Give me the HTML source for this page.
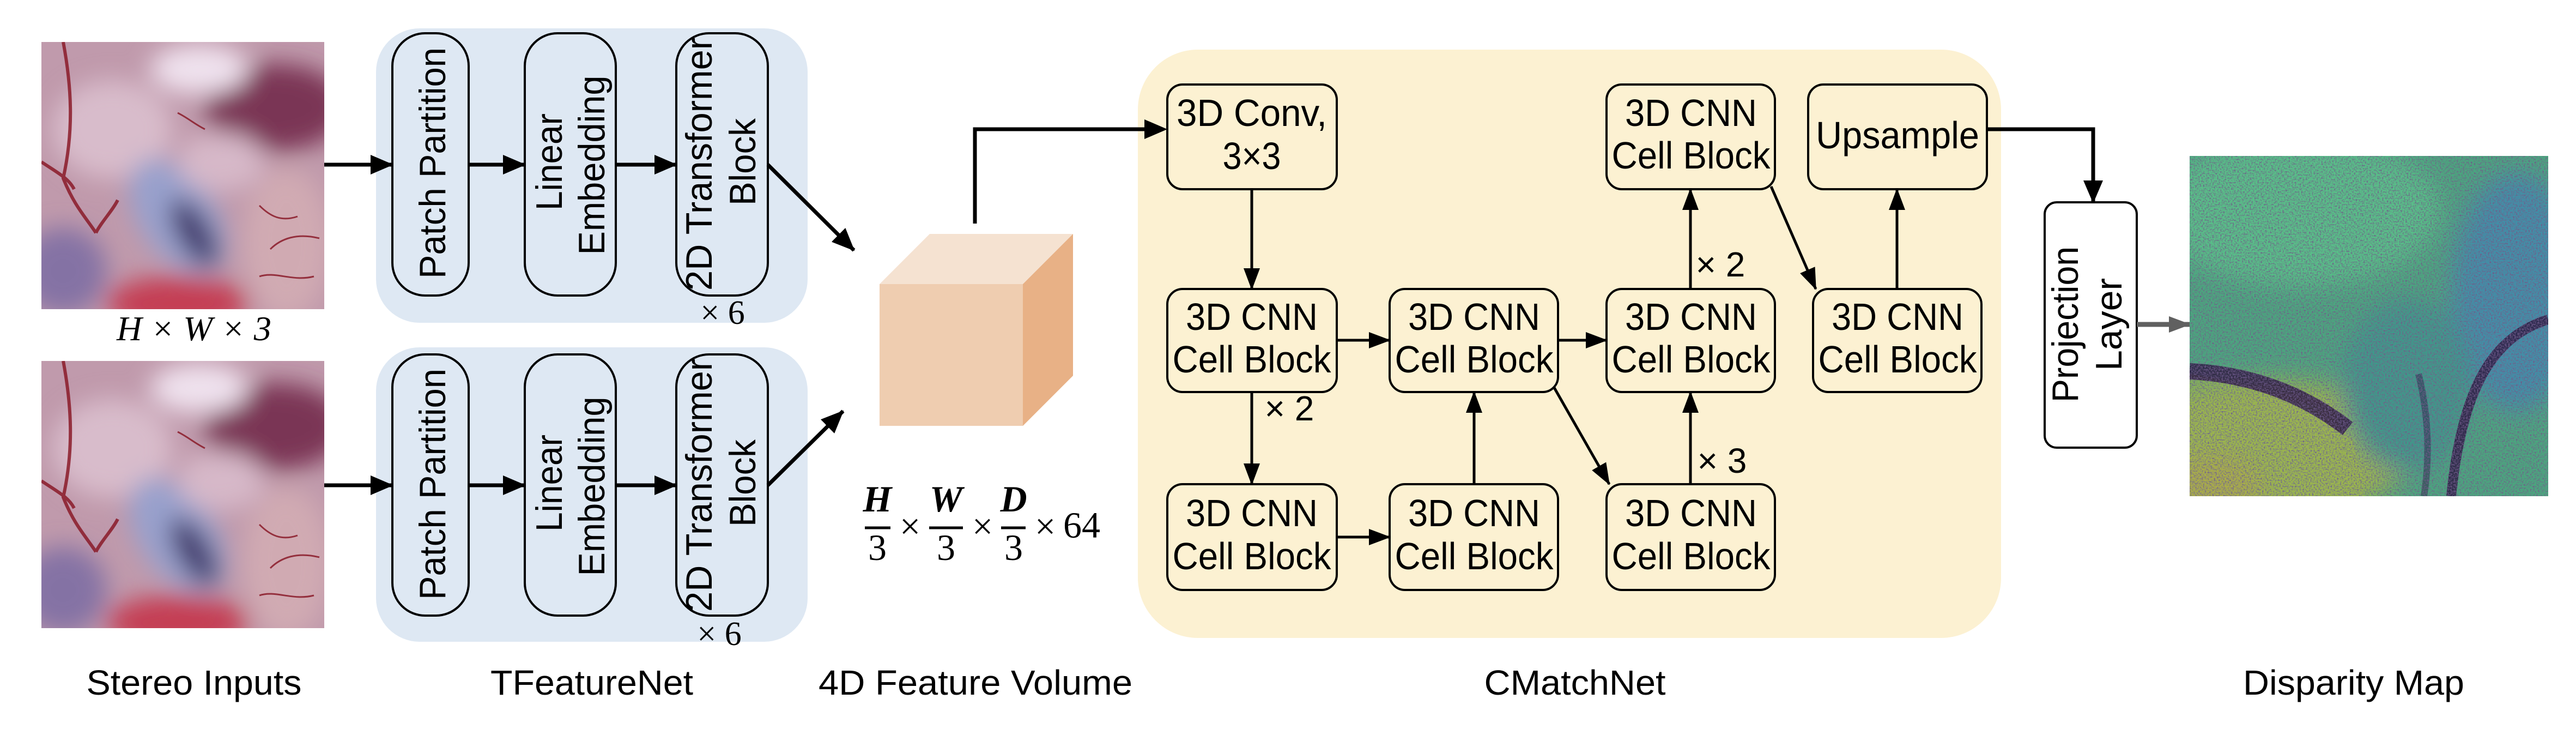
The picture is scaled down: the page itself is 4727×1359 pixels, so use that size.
<!DOCTYPE html>
<html><head><meta charset="utf-8"><style>
html,body{margin:0;padding:0;background:#fff;}
svg{display:block;}
text{font-family:"Liberation Sans",sans-serif;fill:#000;}
.n text, text.n{font-family:"Liberation Sans Narrow","Liberation Sans",sans-serif;}
.m text, text.m{font-family:"Liberation Serif",serif;}
</style></head><body>
<svg width="4727" height="1359" viewBox="0 0 4727 1359" xmlns="http://www.w3.org/2000/svg">
<defs>
<marker id="ah" markerUnits="userSpaceOnUse" markerWidth="44" markerHeight="36" refX="40" refY="18" orient="auto">
<path d="M0,0 L42,18 L0,36 Z" fill="#000"/></marker>
<marker id="as" markerUnits="userSpaceOnUse" markerWidth="40" markerHeight="30" refX="38" refY="15" orient="auto">
<path d="M0,0 L40,15 L0,30 Z" fill="#000"/></marker>
<marker id="ag" markerUnits="userSpaceOnUse" markerWidth="40" markerHeight="30" refX="38" refY="15" orient="auto">
<path d="M0,0 L40,15 L0,30 Z" fill="#606060"/></marker>
<filter id="blur" x="-50%" y="-50%" width="200%" height="200%"><feGaussianBlur stdDeviation="22"/></filter>
<filter id="noise" x="0" y="0" width="100%" height="100%">
<feTurbulence type="fractalNoise" baseFrequency="0.35" numOctaves="2" seed="3" result="t"/>
<feColorMatrix in="t" type="matrix" values="0 0 0 0 0.15  0 0 0 0 0.1  0 0 0 0 0.25  0 0 0 -2.2 1.35" result="d"/>
<feComposite in="d" in2="SourceGraphic" operator="in" result="dd"/>
<feMerge><feMergeNode in="SourceGraphic"/><feMergeNode in="dd"/></feMerge>
</filter>
<clipPath id="pc"><rect x="0" y="0" width="519" height="490"/></clipPath>
<g id="photo" clip-path="url(#pc)">
<rect x="0" y="0" width="519" height="490" fill="#c09aac"/>
<g filter="url(#blur)">
<ellipse cx="430" cy="120" rx="130" ry="80" fill="#7a3654"/>
<ellipse cx="290" cy="50" rx="90" ry="45" fill="#efe2ee"/>
<ellipse cx="130" cy="160" rx="110" ry="90" fill="#d8bccb"/>
<ellipse cx="250" cy="320" rx="70" ry="120" fill="#98a0cc" transform="rotate(-35 250 320)"/>
<ellipse cx="280" cy="350" rx="30" ry="70" fill="#40386a" transform="rotate(-30 280 350)"/>
<ellipse cx="450" cy="370" rx="80" ry="140" fill="#d0aab2"/>
<ellipse cx="250" cy="480" rx="130" ry="50" fill="#c43c52"/>
<ellipse cx="40" cy="420" rx="80" ry="80" fill="#8472a4"/>
<ellipse cx="330" cy="220" rx="80" ry="55" fill="#d6b8c8"/>
</g>
<g fill="none" stroke="#8a1a28" stroke-width="6" opacity="0.85">
<path d="M40,0 C55,80 60,160 40,250 C60,300 80,320 100,350"/>
<path d="M0,220 C30,240 50,250 60,270"/>
<path d="M100,350 C110,330 130,310 140,290"/>
<path d="M400,300 C420,320 440,330 470,320 M420,380 C440,360 470,350 510,360 M400,430 C430,420 460,440 500,430" stroke-width="3"/>
<path d="M250,130 C270,140 280,150 300,160" stroke-width="3"/>
</g>
</g>
</defs>

<use href="#photo" x="76" y="77"/>
<use href="#photo" x="76" y="662"/>
<text class="m" x="356" y="624" font-size="64" font-style="italic" text-anchor="middle" textLength="284" lengthAdjust="spacingAndGlyphs">H × W × 3</text>

<rect x="690" y="52" width="792" height="540" rx="80" fill="#dee8f3"/>
<rect x="690" y="637" width="792" height="540" rx="80" fill="#dee8f3"/>
<g fill="none" stroke="#000" stroke-width="4">
<rect x="720" y="61" width="140" height="481" rx="60"/>
<rect x="963" y="61" width="167" height="481" rx="60"/>
<rect x="1241" y="61" width="168" height="481" rx="60"/>
<rect x="720" y="650" width="140" height="479" rx="60"/>
<rect x="963" y="650" width="167" height="479" rx="60"/>
<rect x="1241" y="650" width="168" height="479" rx="60"/>
</g>
<g font-size="68">
<text transform="translate(817,299) rotate(-90)" text-anchor="middle" textLength="424" lengthAdjust="spacingAndGlyphs">Patch Partition</text>
<text transform="translate(1031,297) rotate(-90)" text-anchor="middle" textLength="178" lengthAdjust="spacingAndGlyphs">Linear</text>
<text transform="translate(1109,303) rotate(-90)" text-anchor="middle" textLength="329" lengthAdjust="spacingAndGlyphs">Embedding</text>
<text transform="translate(1306,301) rotate(-90)" text-anchor="middle" textLength="464" lengthAdjust="spacingAndGlyphs">2D Transformer</text>
<text transform="translate(1386,297) rotate(-90)" text-anchor="middle" textLength="160" lengthAdjust="spacingAndGlyphs">Block</text>
<text transform="translate(817,888) rotate(-90)" text-anchor="middle" textLength="424" lengthAdjust="spacingAndGlyphs">Patch Partition</text>
<text transform="translate(1031,886) rotate(-90)" text-anchor="middle" textLength="178" lengthAdjust="spacingAndGlyphs">Linear</text>
<text transform="translate(1109,892) rotate(-90)" text-anchor="middle" textLength="329" lengthAdjust="spacingAndGlyphs">Embedding</text>
<text transform="translate(1306,890) rotate(-90)" text-anchor="middle" textLength="464" lengthAdjust="spacingAndGlyphs">2D Transformer</text>
<text transform="translate(1386,886) rotate(-90)" text-anchor="middle" textLength="160" lengthAdjust="spacingAndGlyphs">Block</text>
</g>
<text class="m" x="1326" y="594" font-size="62" text-anchor="middle">× 6</text>
<text class="m" x="1320" y="1183" font-size="62" text-anchor="middle">× 6</text>

<g stroke="#000" stroke-width="7" fill="none" marker-end="url(#ah)">
<line x1="595" y1="302" x2="720" y2="302"/>
<line x1="860" y1="302" x2="963" y2="302"/>
<line x1="1130" y1="302" x2="1241" y2="302"/>
<line x1="595" y1="890" x2="720" y2="890"/>
<line x1="860" y1="890" x2="963" y2="890"/>
<line x1="1130" y1="890" x2="1241" y2="890"/>
<line x1="1409" y1="302" x2="1567" y2="459"/>
<line x1="1409" y1="890" x2="1547" y2="754"/>
</g>

<polygon points="1614,521 1706,429 1969,429 1877,521" fill="#f5e2d1"/>
<polygon points="1877,521 1969,429 1969,689 1877,781" fill="#e8b186"/>
<rect x="1614" y="521" width="263" height="260" fill="#efcdb0"/>

<g class="m" font-size="68">
<text x="1610" y="938" text-anchor="middle" font-style="italic" font-weight="bold">H</text>
<text x="1610" y="1027" text-anchor="middle">3</text>
<text x="1736" y="938" text-anchor="middle" font-style="italic" font-weight="bold">W</text>
<text x="1736" y="1027" text-anchor="middle">3</text>
<text x="1860" y="938" text-anchor="middle" font-style="italic" font-weight="bold">D</text>
<text x="1860" y="1027" text-anchor="middle">3</text>
<text x="1670" y="988" text-anchor="middle">×</text>
<text x="1803" y="988" text-anchor="middle">×</text>
<text x="1918" y="988" text-anchor="middle">×</text>
<text x="1985" y="986" text-anchor="middle">64</text>
</g>
<g stroke="#000" stroke-width="5">
<line x1="1587" y1="968" x2="1634" y2="968"/>
<line x1="1705" y1="968" x2="1767" y2="968"/>
<line x1="1837" y1="968" x2="1882" y2="968"/>
</g>

<rect x="2088" y="91" width="1584" height="1079" rx="110" fill="#fcf1d2"/>
<polyline points="1789,410 1789,237 2105,237" stroke="#000" stroke-width="7" fill="none"/>
<polygon points="2100,219 2142,237 2100,255" fill="#000"/>
<g fill="none" stroke="#000" stroke-width="4">
<rect x="2142" y="155" width="311" height="192" rx="28"/>
<rect x="2142" y="530" width="311" height="189" rx="28"/>
<rect x="2550" y="530" width="309" height="189" rx="28"/>
<rect x="2948" y="530" width="309" height="189" rx="28"/>
<rect x="3327" y="530" width="309" height="189" rx="28"/>
<rect x="2142" y="888" width="311" height="194" rx="28"/>
<rect x="2550" y="888" width="309" height="194" rx="28"/>
<rect x="2948" y="888" width="309" height="194" rx="28"/>
<rect x="2948" y="155" width="309" height="192" rx="28"/>
<rect x="3318" y="155" width="328" height="192" rx="28"/>
</g>
<g class="n" font-size="70" text-anchor="middle">
<text x="2297" y="231" textLength="276" lengthAdjust="spacingAndGlyphs">3D Conv,</text>
<text x="2297" y="310" textLength="107" lengthAdjust="spacingAndGlyphs">3×3</text>
<text x="3103" y="231" textLength="242" lengthAdjust="spacingAndGlyphs">3D CNN</text>
<text x="3103" y="309" textLength="291" lengthAdjust="spacingAndGlyphs">Cell Block</text>
<text x="3482" y="272" textLength="300" lengthAdjust="spacingAndGlyphs">Upsample</text>
<text x="2297" y="605" textLength="242" lengthAdjust="spacingAndGlyphs">3D CNN</text>
<text x="2297" y="683" textLength="291" lengthAdjust="spacingAndGlyphs">Cell Block</text>
<text x="2705" y="605" textLength="242" lengthAdjust="spacingAndGlyphs">3D CNN</text>
<text x="2705" y="683" textLength="291" lengthAdjust="spacingAndGlyphs">Cell Block</text>
<text x="3103" y="605" textLength="242" lengthAdjust="spacingAndGlyphs">3D CNN</text>
<text x="3103" y="683" textLength="291" lengthAdjust="spacingAndGlyphs">Cell Block</text>
<text x="3482" y="605" textLength="242" lengthAdjust="spacingAndGlyphs">3D CNN</text>
<text x="3482" y="683" textLength="291" lengthAdjust="spacingAndGlyphs">Cell Block</text>
<text x="2297" y="965" textLength="242" lengthAdjust="spacingAndGlyphs">3D CNN</text>
<text x="2297" y="1044" textLength="291" lengthAdjust="spacingAndGlyphs">Cell Block</text>
<text x="2705" y="965" textLength="242" lengthAdjust="spacingAndGlyphs">3D CNN</text>
<text x="2705" y="1044" textLength="291" lengthAdjust="spacingAndGlyphs">Cell Block</text>
<text x="3103" y="965" textLength="242" lengthAdjust="spacingAndGlyphs">3D CNN</text>
<text x="3103" y="1044" textLength="291" lengthAdjust="spacingAndGlyphs">Cell Block</text>
<text x="2366" y="771" font-size="64">× 2</text>
<text x="3157" y="507" font-size="64">× 2</text>
<text x="3160" y="867" font-size="64">× 3</text>
</g>
<g stroke="#000" stroke-width="5" fill="none" marker-end="url(#as)">
<line x1="2297" y1="347" x2="2297" y2="530"/>
<line x1="2297" y1="719" x2="2297" y2="888"/>
<line x1="2453" y1="624" x2="2550" y2="624"/>
<line x1="2453" y1="985" x2="2550" y2="985"/>
<line x1="2705" y1="888" x2="2705" y2="719"/>
<line x1="2859" y1="624" x2="2948" y2="624"/>
<line x1="2852" y1="711" x2="2953" y2="888"/>
<line x1="3102" y1="888" x2="3102" y2="719"/>
<line x1="3102" y1="530" x2="3102" y2="347"/>
<line x1="3250" y1="342" x2="3332" y2="530"/>
<line x1="3481" y1="530" x2="3481" y2="347"/>
</g>
<polyline points="3646,237 3841,237 3841,371" stroke="#000" stroke-width="7" fill="none" marker-end="url(#ah)"/>

<rect x="3752" y="371" width="169" height="450" rx="22" fill="#fff" stroke="#000" stroke-width="4"/>
<g font-size="68">
<text transform="translate(3813,595) rotate(-90)" text-anchor="middle" textLength="286" lengthAdjust="spacingAndGlyphs">Projection</text>
<text transform="translate(3893,595) rotate(-90)" text-anchor="middle" textLength="170" lengthAdjust="spacingAndGlyphs">Layer</text>
</g>
<line x1="3921" y1="595" x2="4018" y2="595" stroke="#606060" stroke-width="9" marker-end="url(#ag)"/>

<g filter="url(#noise)">
<svg x="4018" y="286" width="658" height="624" viewBox="0 0 658 624">
<rect width="658" height="624" fill="#4aa87e"/>
<g filter="url(#blur)">
<ellipse cx="200" cy="100" rx="260" ry="140" fill="#58c088"/>
<ellipse cx="600" cy="250" rx="120" ry="220" fill="#3f90a8"/>
<ellipse cx="150" cy="540" rx="260" ry="130" fill="#9cb848"/>
<ellipse cx="40" cy="610" rx="90" ry="60" fill="#c0a040"/>
<ellipse cx="400" cy="420" rx="120" ry="160" fill="#3e9a8a"/>
</g>
<path d="M0,400 C80,410 200,440 300,520 L320,624 L0,624 Z" fill="#9cb848" opacity="0.6"/>
<path d="M0,395 C100,400 200,430 290,500" stroke="#2a1840" stroke-width="30" fill="none" opacity="0.85"/>
<path d="M658,300 C560,330 500,420 480,624" stroke="#2a1840" stroke-width="18" fill="none" opacity="0.85"/>
<path d="M420,400 C440,480 440,560 430,624" stroke="#2a1840" stroke-width="12" fill="none" opacity="0.5"/>
</svg>
</g>

<g class="n" font-size="64" text-anchor="middle">
<text x="356" y="1274" textLength="395" lengthAdjust="spacingAndGlyphs">Stereo Inputs</text>
<text x="1086" y="1274" textLength="372" lengthAdjust="spacingAndGlyphs">TFeatureNet</text>
<text x="1790" y="1274" textLength="576" lengthAdjust="spacingAndGlyphs">4D Feature Volume</text>
<text x="2890" y="1274" textLength="333" lengthAdjust="spacingAndGlyphs">CMatchNet</text>
<text x="4319" y="1274" textLength="406" lengthAdjust="spacingAndGlyphs">Disparity Map</text>
</g>
</svg>
</body></html>
